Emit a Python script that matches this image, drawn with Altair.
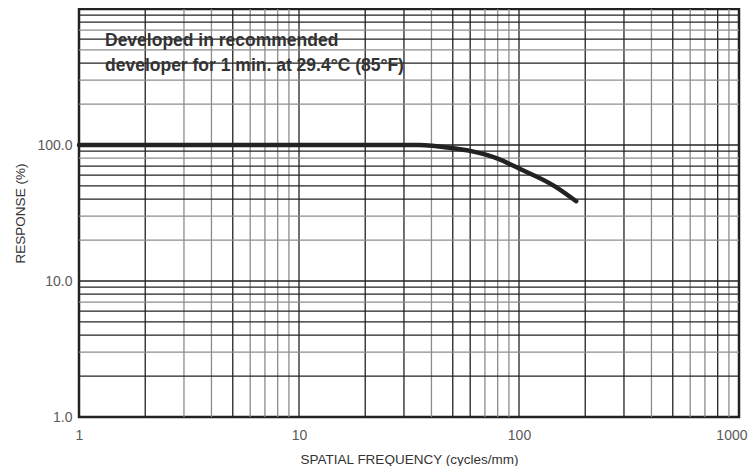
import altair as alt
import pandas as pd

# ---- data ----
freq = [1, 35, 50, 60, 70, 80, 100, 145, 182]
response = [100, 100, 94.8, 90.5, 85.2, 79.3, 67.2, 49.9, 38.6]

x_grid_vals = [2, 3, 4, 5, 6, 7, 8, 9,
               20, 30, 40, 50, 60, 70, 80, 90,
               200, 300, 400, 500, 600, 700, 800, 900,
               10, 100]
x_grid_kind = ["dark", "light", "light", "dark", "light", "light", "light", "light",
               "dark", "dark", "light", "dark", "dark", "light", "light", "light",
               "dark", "dark", "light", "dark", "light", "light", "dark", "light",
               "decade", "decade"]

y_grid_vals = [2, 3, 4, 5, 6, 7, 8, 9,
               20, 30, 40, 50, 60, 70, 80, 90,
               200, 300, 400, 500, 600, 700, 800, 900,
               10, 100]
y_grid_kind = ["dark", "light", "dark", "dark", "dark", "light", "dark", "dark",
               "light", "light", "dark", "dark", "dark", "dark", "light", "dark",
               "light", "light", "dark", "light", "dark", "light", "dark", "dark",
               "decade", "decade"]

x_ticks = [1, 10, 100, 1000]
y_ticks = [1, 10, 100]

note_lines = ["Developed in recommended", "developer for 1 min. at 29.4°C (85°F)"]

# ---- tables ----
curve = pd.DataFrame({"freq": freq, "response": response})
xg = pd.DataFrame({"v": x_grid_vals, "kind": x_grid_kind})
yg = pd.DataFrame({"v": y_grid_vals, "kind": y_grid_kind})

FONT = "Liberation Sans"
xs = alt.Scale(type="log", domain=[1, 1000], nice=False)
ys = alt.Scale(type="log", domain=[1, 1000], nice=False)

kind_color = alt.Scale(domain=["light", "dark", "decade"], range=["#8c8c8c", "#222222", "#222222"])
kind_width = alt.Scale(domain=["light", "dark", "decade"], range=[1.3, 1.3, 2.4])

x_axis = alt.Axis(values=x_ticks, labelExpr="format(datum.value, 'd')", ticks=False, domain=False,
                  grid=False, labelFont=FONT, labelFontSize=14, labelColor="#5a5a5a",
                  labelPadding=11, title="SPATIAL FREQUENCY (cycles/mm)", titleFont=FONT,
                  titleFontSize=13.5, titleFontWeight="normal", titleColor="#333333",
                  titlePadding=10, labelFlush=False, labelOverlap=False,
                  labelAlign={"condition": {"test": "datum.value >= 1000", "value": "right"},
                              "value": "center"},
                  labelOffset={"condition": {"test": "datum.value >= 1000", "value": 8},
                               "value": 0})
y_axis = alt.Axis(values=y_ticks, format=".1f", ticks=False, domain=False, grid=False,
                  labelFont=FONT, labelFontSize=14, labelColor="#5a5a5a", labelPadding=7,
                  title="RESPONSE (%)", titleFont=FONT, titleFontSize=13.5,
                  titleFontWeight="normal", titleColor="#333333", titlePadding=9,
                  labelFlush=False, labelOverlap=False)

xgrid = alt.Chart(xg).mark_rule().encode(
    x=alt.X("v:Q", scale=xs, axis=x_axis),
    color=alt.Color("kind:N", scale=kind_color, legend=None),
    strokeWidth=alt.StrokeWidth("kind:N", scale=kind_width, legend=None),
)
ygrid = alt.Chart(yg).mark_rule().encode(
    y=alt.Y("v:Q", scale=ys, axis=y_axis),
    color=alt.Color("kind:N", scale=kind_color, legend=None),
    strokeWidth=alt.StrokeWidth("kind:N", scale=kind_width, legend=None),
)

line = alt.Chart(curve).mark_line(color="#222222", strokeWidth=4.5, interpolate="monotone",
                                  strokeCap="round").encode(
    x=alt.X("freq:Q", scale=xs, axis=x_axis),
    y=alt.Y("response:Q", scale=ys, axis=y_axis),
)

note_df = pd.DataFrame({"t": [note_lines[0]]})
note_df2 = pd.DataFrame({"t": [note_lines[1]]})
note1 = alt.Chart(note_df).mark_text(align="left", baseline="alphabetic", font=FONT, fontSize=17.5,
                                     fontWeight="bold", color="#333333").encode(
    text="t:N", x=alt.value(26), y=alt.value(36.5))
note2 = alt.Chart(note_df2).mark_text(align="left", baseline="alphabetic", font=FONT, fontSize=17.5,
                                      fontWeight="bold", color="#333333").encode(
    text="t:N", x=alt.value(26), y=alt.value(62))

chart = alt.layer(xgrid, ygrid, line, note1, note2).properties(
    width=660, height=408,
    autosize=alt.AutoSizeParams(type="none"),
    padding={"left": 71, "top": 1, "right": 9, "bottom": 49},
    background="white",
).configure_view(stroke="#222222", strokeWidth=2.5)

chart.save("out.html", embed_options={"renderer": "svg", "actions": False})
